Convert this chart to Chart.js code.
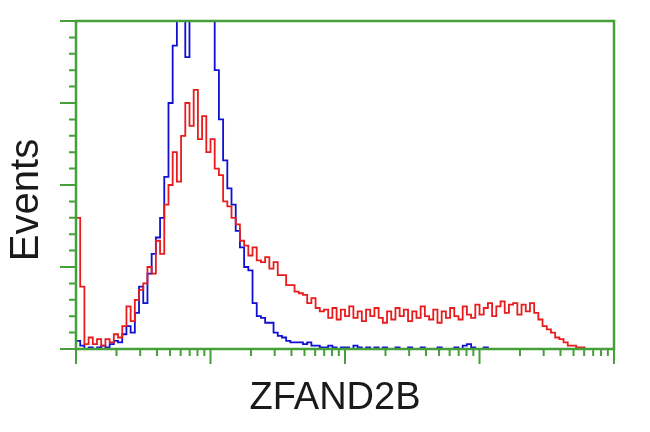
<!DOCTYPE html>
<html>
<head>
<meta charset="utf-8">
<script src="https://cdn.jsdelivr.net/npm/chart.js@4.4.1/dist/chart.umd.min.js"></script>
<style>
html,body{margin:0;padding:0;background:#ffffff;}
#wrap{width:650px;height:432px;position:relative;}
</style>
</head>
<body>
<div id="wrap"><canvas id="c" width="650" height="432"></canvas></div>
<script>
// Channel axis (log-amplified, 256 channels per decade, 4 decades)
const channels = [0,8,16,24,32,40,48,56,64,72,80,88,96,104,112,120,128,136,144,152,160,168,176,184,192,200,208,216,224,232,240,248,256,264,272,280,288,296,304,312,320,328,336,344,352,360,368,376,384,392,400,408,416,424,432,440,448,456,464,472,480,488,496,504,512,520,528,536,544,552,560,568,576,584,592,600,608,616,624,632,640,648,656,664,672,680,688,696,704,712,720,728,736,744,752,760,768,776,784,792,800,808,816,824,832,840,848,856,864,872,880,888,896,904,912,920,928,936,944,952,960,968,976,984,992,1000,1008,1016];

// Control (blue) event counts
const controlCounts = [
  5,2,0,1,0,1,2,1,3,5,
  4,9,14,10,22,38,28,46,58,68,
  80,105,150,185,215,210,178,212,220,225,
  218,214,205,170,140,115,98,88,72,62,
  50,48,28,20,19,16,16,10,8,7,
  5,4,4,4,3,4,2,2,1,1,
  2,1,0,1,1,0,2,1,0,1,
  0,1,0,1,0,0,1,0,0,1,
  0,0,1,0,0,0,1,0,0,0,
  1,0,2,3,1,0,0,1,0,0,
  0,0,0,0,0,0,0,0,0,0,
  0,0,0,0,0,0,0,0,0,0,
  0,0,0,0,0,0,0,0
];

// ZFAND2B-transfected (red) event counts
const zfand2bCounts = [
  80,38,3,7,3,6,2,6,4,9,
  7,14,26,17,30,36,40,50,46,66,
  58,88,100,120,102,130,150,136,158,128,
  142,120,128,110,106,90,87,80,76,66,
  63,57,62,54,53,56,49,53,45,45,
  39,39,35,34,33,28,31,25,23,24,
  19,25,18,24,20,26,19,23,17,24,
  20,25,19,16,23,18,25,20,24,17,
  23,19,26,20,18,24,16,23,19,25,
  20,18,26,21,19,27,21,25,28,20,
  26,29,22,27,28,21,27,23,28,22,
  18,14,12,10,7,6,4,2,2,1,
  1,0,0,0,0,0,0,0
];

const yMajorTicks = [0,50,100,150,200];
const yMinorTicks = [10,20,30,40,60,70,80,90,110,120,130,140,160,170,180,190];
const xDecadeTicks = [0,256,512,768,1024];
const xTitle = 'ZFAND2B';
const yTitle = 'Events';

const axisColor = '#45a03a';

const toPoints = (xs, ys) => xs.map((x, i) => ({x: x, y: ys[i]}));

const framePlugin = {
  id: 'frame',
  afterDatasetsDraw(chart) {
    const {ctx, chartArea: a} = chart;
    const xs = chart.scales.x, ys = chart.scales.y;
    ctx.save();
    ctx.strokeStyle = axisColor;
    ctx.lineCap = 'butt';
    // box
    ctx.lineWidth = 2.5;
    ctx.beginPath();
    ctx.rect(a.left, a.top, a.right - a.left, a.bottom - a.top);
    ctx.stroke();
    // y ticks
    ctx.lineWidth = 2;
    ctx.beginPath();
    for (const v of yMajorTicks) {
      const p = ys.getPixelForValue(v);
      ctx.moveTo(a.left - 16, p); ctx.lineTo(a.left, p);
    }
    for (const v of yMinorTicks) {
      const p = ys.getPixelForValue(v);
      ctx.moveTo(a.left - 7, p); ctx.lineTo(a.left, p);
    }
    // x ticks (log decades with 2..9 minors)
    for (let d = 0; d < xDecadeTicks.length; d++) {
      const p = xs.getPixelForValue(xDecadeTicks[d]);
      ctx.moveTo(p, a.bottom); ctx.lineTo(p, a.bottom + 15);
      if (d < xDecadeTicks.length - 1) {
        const span = xDecadeTicks[d + 1] - xDecadeTicks[d];
        for (let k = 2; k <= 9; k++) {
          const q = xs.getPixelForValue(xDecadeTicks[d] + span * Math.log10(k));
          ctx.moveTo(q, a.bottom); ctx.lineTo(q, a.bottom + 7);
        }
      }
    }
    ctx.stroke();
    // titles
    ctx.fillStyle = '#1a1a1a';
    ctx.textAlign = 'center';
    ctx.textBaseline = 'middle';
    ctx.font = '38px "Liberation Sans", Arial, sans-serif';
    ctx.fillText(xTitle, 335, 399);
    ctx.font = '40px "Liberation Sans", Arial, sans-serif';
    ctx.translate(27, 200);
    ctx.rotate(-Math.PI / 2);
    ctx.fillText(yTitle, 0, 0);
    ctx.restore();
  }
};

new Chart(document.getElementById('c'), {
  type: 'line',
  data: {
    datasets: [
      {
        label: 'Control',
        data: toPoints(channels, controlCounts),
        borderColor: '#1010d2',
        borderWidth: 1.8,
        pointRadius: 0,
        stepped: true,
        fill: false,
        order: 2
      },
      {
        label: 'ZFAND2B',
        data: toPoints(channels, zfand2bCounts),
        borderColor: '#e81c1c',
        borderWidth: 1.8,
        pointRadius: 0,
        stepped: true,
        fill: false,
        order: 1
      }
    ]
  },
  options: {
    responsive: false,
    animation: false,
    layout: {padding: {left: 76, right: 36, top: 21, bottom: 83}},
    plugins: {legend: {display: false}, tooltip: {enabled: false}},
    scales: {
      x: {type: 'linear', min: 0, max: 1024, display: false},
      y: {type: 'linear', min: 0, max: 200, display: false}
    }
  },
  plugins: [framePlugin]
});
</script>
</body>
</html>
